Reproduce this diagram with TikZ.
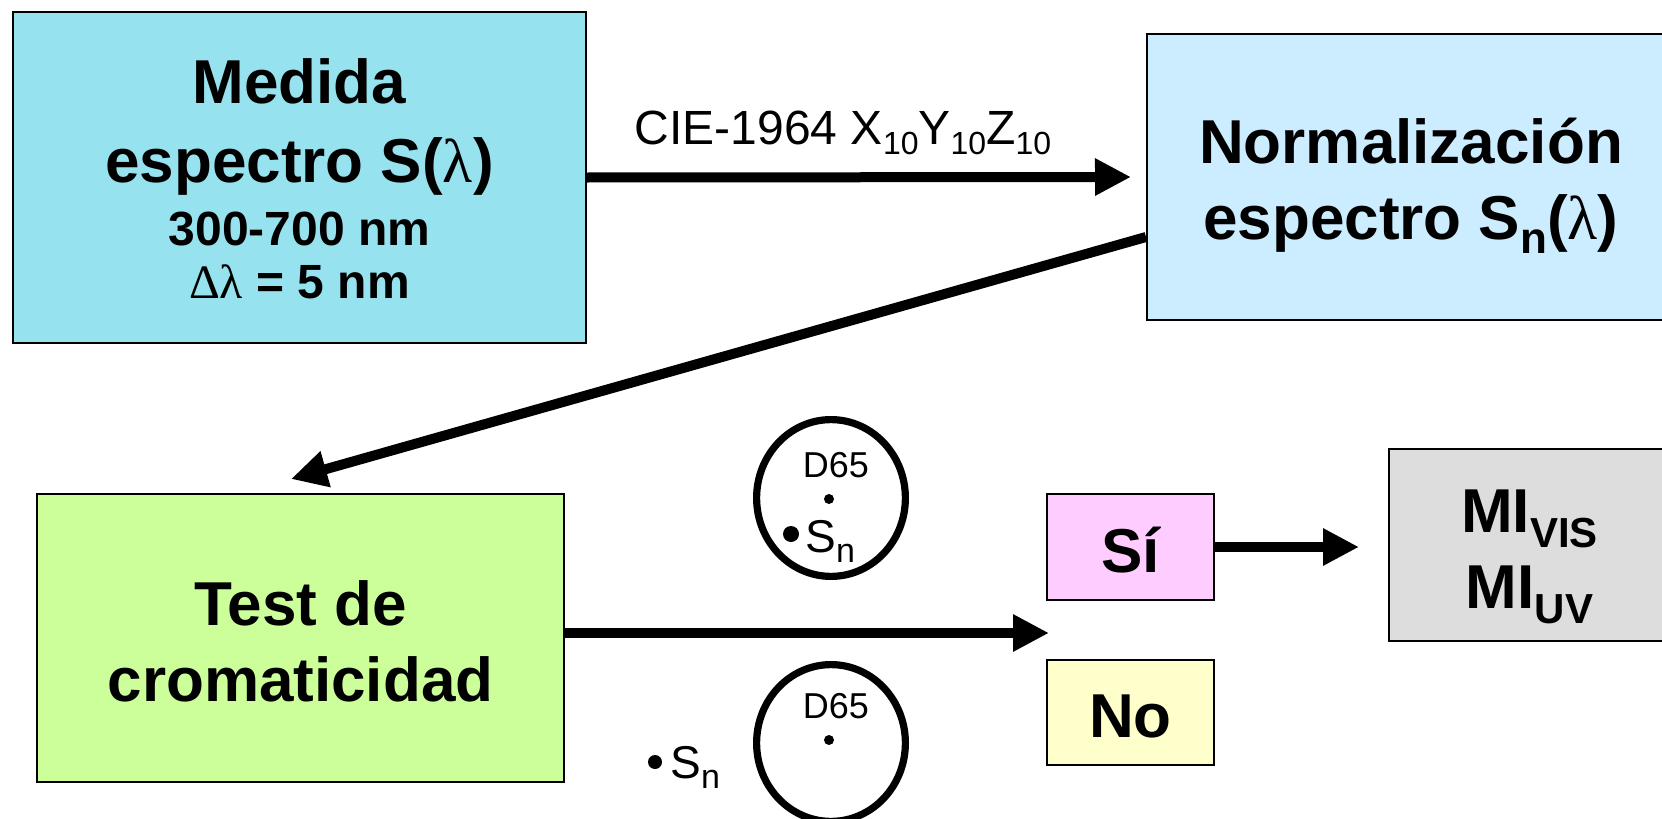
\documentclass[tikz,border=0pt]{standalone}
\usepackage{fontspec}
\setmainfont{Liberation Sans}
\newfontfamily\grk{Liberation Serif}
\usetikzlibrary{arrows.meta,shapes.geometric}
\newcommand\lowsub[3]{\raisebox{-#2}{\fontsize{#1}{#1}\selectfont #3}}
\definecolor{cMeas}{RGB}{150,226,238}
\definecolor{cNorm}{RGB}{204,236,255}
\definecolor{cTest}{RGB}{204,255,153}
\definecolor{cSi}{RGB}{255,204,255}
\definecolor{cNo}{RGB}{255,255,204}
\definecolor{cMI}{RGB}{221,221,221}
\begin{document}
\begin{tikzpicture}[x=0.5pt,y=-0.5pt,
  box/.style={draw=black,line width=1pt,align=center,inner sep=0pt},
  arr/.style={line width=5pt,-{Triangle[length=18pt,width=17.5pt]}},
  ell/.style={draw,ellipse,line width=3.6pt,minimum width=74.4pt,minimum height=78.4pt,inner sep=0pt},
  dot/.style={circle,fill=black,inner sep=0pt,minimum size=#1},
  dlabel/.style={anchor=base,font=\fontsize{18}{20}\selectfont,inner sep=0pt},
  snlabel/.style={anchor=base west,inner sep=0pt,font=\fontsize{23}{26}\selectfont},
]
\useasboundingbox (0,0) rectangle (1662,819);
\clip (0,0) rectangle (1662,819);

% boxes
\node[box,fill=cMeas,minimum width=286.5pt,minimum height=165.5pt,
      text height=143pt,text depth=22.5pt,
      font=\fontsize{31}{39.5}\selectfont\bfseries] (meas) at (299.5,177.5)
  {Medida\\espectro S({\grk\mdseries λ})\\[-8pt]
   \fontsize{24}{28}\selectfont 300-700 nm\\[-13pt]
   \fontsize{24}{28}\selectfont {\grk\mdseries Δλ} = 5 nm};
\node[box,fill=cNorm,minimum width=264pt,minimum height=143pt,
      text height=102.5pt,text depth=40.5pt,
      font=\fontsize{31}{38}\selectfont\bfseries] (norm) at (1411,177)
  {Normalización\\espectro S\lowsub{22pt}{7pt}{n}({\grk\mdseries λ})};
\node[box,fill=cTest,minimum width=263.5pt,minimum height=144pt,
      text height=103.5pt,text depth=40.5pt,
      font=\fontsize{31}{38}\selectfont\bfseries] (test) at (300.5,638)
  {Test de\\cromaticidad};
\node[box,fill=cSi,minimum width=83.5pt,minimum height=53pt,
      text height=39pt,text depth=14pt,
      font=\fontsize{31}{36}\selectfont\bfseries] (si) at (1130.5,547) {Sí};
\node[box,fill=cNo,minimum width=83.5pt,minimum height=52.5pt,
      text height=38.5pt,text depth=14pt,
      font=\fontsize{31}{36}\selectfont\bfseries] (no) at (1130.5,712.5) {No};
\node[box,fill=cMI,minimum width=140.5pt,minimum height=96pt,
      text height=79.5pt,text depth=16.5pt,
      font=\fontsize{31}{38}\selectfont\bfseries] (mi) at (1529.5,545)
  {MI\lowsub{21pt}{7.5pt}{VIS}\\MI\lowsub{21pt}{7.5pt}{UV}};

% label of first arrow
\node[anchor=base,inner sep=0pt,font=\fontsize{24}{28}\selectfont] (cie) at (843,144)
  {CIE-1964 X\lowsub{16pt}{5pt}{10}Y\lowsub{16pt}{5pt}{10}Z\lowsub{16pt}{5pt}{10}};

% arrows
\coordinate (dtip) at (291,479);
\coordinate (t3) at (1049,633);
\coordinate (t4) at (1359,547);
\draw[arr] (meas.east) -- ([xshift=-7.5pt]norm.west);
\draw[arr] ([yshift=-30pt]norm.west) -- (dtip);
\draw[arr] (test.east |- t3) -- (t3);
\draw[arr] (si.east) -- (t4);

% chromaticity diagrams
\node[ell] (e1) at (831,498) {};
\node[dlabel] (d65a) at (836,477) {D65};
\node[dot=5pt] (w1) at (829,499) {};
\node[dot=8pt] (s1) at (791,534) {};
\node[snlabel] (sn1) at (805,552) {S\lowsub{17pt}{5pt}{n}};

\node[ell] (e2) at (831,743) {};
\node[dlabel] (d65b) at (836,718) {D65};
\node[dot=5pt] (w2) at (829,740) {};
\node[dot=7pt] (s2) at (655,762) {};
\node[snlabel] (sn2) at (670,778) {S\lowsub{17pt}{5pt}{n}};
\end{tikzpicture}
\end{document}
